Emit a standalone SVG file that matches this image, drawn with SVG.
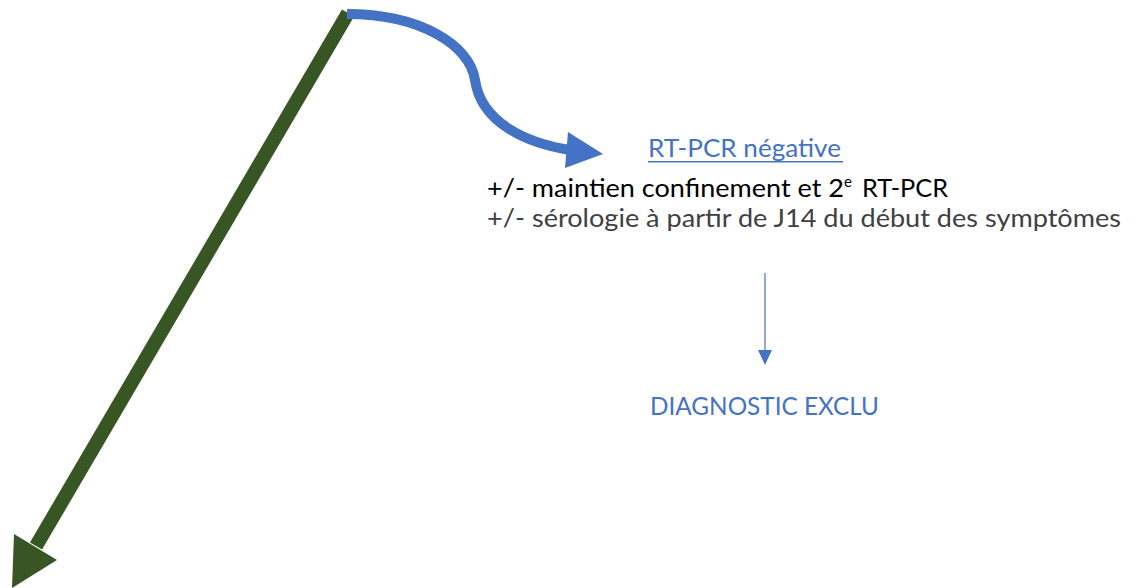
<svg xmlns="http://www.w3.org/2000/svg" width="1141" height="588" viewBox="0 0 1141 588">
<style>
.t{font-family:Lato,"Open Sans",sans-serif;font-size:25px}
.blue{fill:#4472C4}
.blk{fill:#000000}
.gry{fill:#404040}
</style>
<rect width="1141" height="588" fill="#ffffff"/>
<g id="connectors">
<g id="green-arrow">
<line x1="348" y1="13" x2="36" y2="546" stroke="#375623" stroke-width="14" stroke-linecap="butt"/>
<polygon points="12,588 14,534 57,560" fill="#375623"/>
</g>
<g id="blue-curved-arrow">
<path d="M347,14 C420,14 470,45 475,80 C481,122 525,143 570,150" fill="none" stroke="#4472C4" stroke-width="10"/>
<polygon points="603,154 568,132 565,168" fill="#4472C4"/>
</g>
<g id="thin-arrow">
<line x1="765" y1="273" x2="765" y2="352" stroke="#4472C4" stroke-width="1.2"/>
<polygon points="765,365 758,350 772,350" fill="#4472C4"/>
</g>
</g>
<g id="node-rtpcr">
<text class="t blue" x="648" y="157" textLength="193" lengthAdjust="spacingAndGlyphs">RT-PCR négative</text>
<rect x="648" y="161" width="195" height="1.5" fill="#4472C4"/>
</g>
<g id="node-details">
<text class="t blk" x="487" y="197" textLength="357" lengthAdjust="spacingAndGlyphs">+/- maintien confinement et 2</text>
<text class="blk" x="844" y="187" style="font-family:Lato,'Open Sans',sans-serif;font-size:15px">e</text>
<text class="t blk" x="862" y="197" textLength="86" lengthAdjust="spacingAndGlyphs">RT-PCR</text>
<text class="t gry" x="487" y="227" textLength="634" lengthAdjust="spacingAndGlyphs">+/- sérologie à partir de J14 du début des symptômes</text>
</g>
<g id="node-exclu">
<text class="t blue" x="650" y="415" textLength="229" lengthAdjust="spacingAndGlyphs">DIAGNOSTIC EXCLU</text>
</g>
</svg>
